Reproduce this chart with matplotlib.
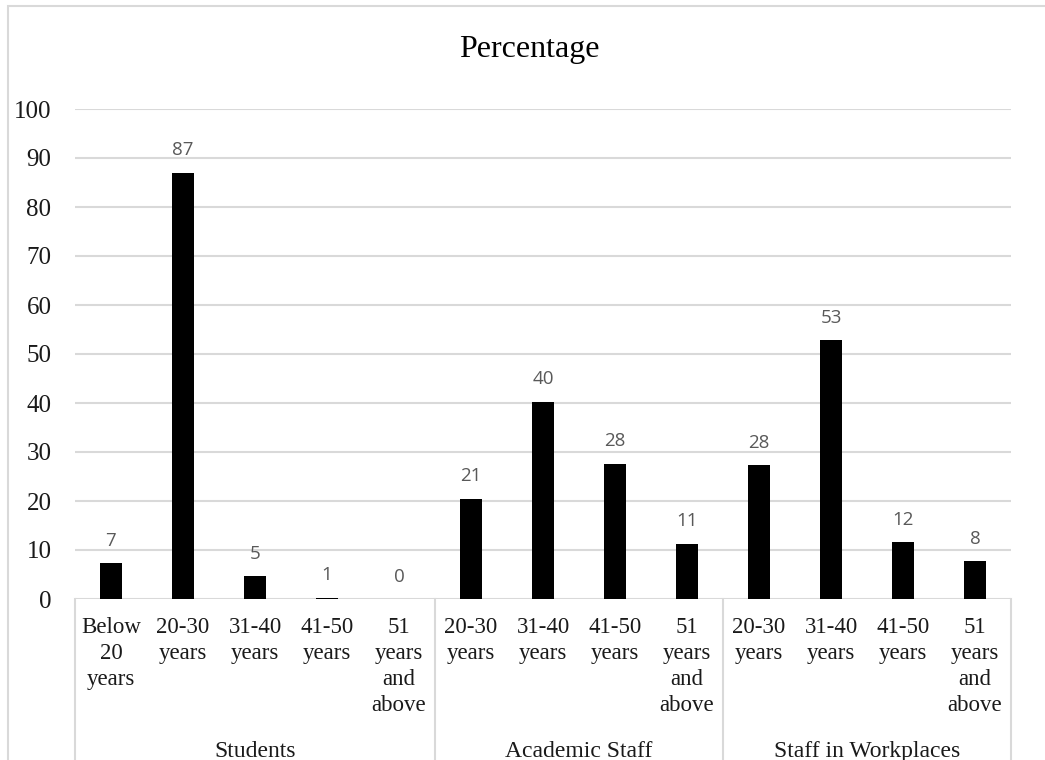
import matplotlib
matplotlib.use("Agg")
import matplotlib.pyplot as plt
from matplotlib.lines import Line2D
from matplotlib.patches import Rectangle
import matplotlib.transforms as mtransforms

# ---- data ----
groups = ["Students", "Academic Staff", "Staff in Workplaces"]
group_sizes = [5, 4, 4]
tick_labels = [
    "Below\n20\nyears", "20-30\nyears", "31-40\nyears", "41-50\nyears", "51\nyears\nand\nabove",
    "20-30\nyears", "31-40\nyears", "41-50\nyears", "51\nyears\nand\nabove",
    "20-30\nyears", "31-40\nyears", "41-50\nyears", "51\nyears\nand\nabove",
]
values = [7.3, 87.0, 4.7, 0.3, 0.0, 20.5, 40.3, 27.6, 11.3, 27.3, 52.8, 11.6, 7.7]
value_labels = ["7", "87", "5", "1", "0", "21", "40", "28", "11", "28", "53", "12", "8"]
yticks = list(range(0, 101, 10))

W, H = 1045, 760
fig = plt.figure(figsize=(W / 100, H / 100), dpi=100)
fig.patch.set_facecolor("white")

SERIF = "Liberation Serif"
TXT = "#1a1a1a"

# outer chart border
fig.add_artist(Rectangle((8 / W, -0.1), 1.2, 1 - 6 / H + 0.1, transform=fig.transFigure,
                         fill=False, edgecolor="#d9d9d9", linewidth=1.5))

x0, x1 = 75, 1011
y_top, y_bot = 109, 599
ax = fig.add_axes([x0 / W, (H - y_bot) / H, (x1 - x0) / W, (y_bot - y_top) / H])
n = len(values)
xs = list(range(n))
ax.bar(xs, values, width=0.3, color="black", zorder=3)
ax.set_xlim(-0.5, n - 0.5)
ax.set_ylim(0, 100)
ax.set_yticks(yticks)
ax.set_yticklabels([str(t) for t in yticks], family=SERIF, fontsize=18, color=TXT)
ax.tick_params(axis="y", length=0, pad=17)
ax.set_xticks([])
for s in ax.spines.values():
    s.set_visible(False)
ax.grid(axis="y", color="#d9d9d9", linewidth=1.5, zorder=0)
ax.set_axisbelow(True)

for x, v, lab in zip(xs, values, value_labels):
    ax.annotate(lab, (x, v), xytext=(0, 12.5), textcoords="offset points", ha="center",
                va="baseline", family="Open Sans", fontsize=13.5, color="#595959")

# category axis labels (one line at a time)
trans = mtransforms.blended_transform_factory(ax.transData, fig.transFigure)
first_base, pitch = 633, 26
for x, lab in zip(xs, tick_labels):
    for i, line in enumerate(lab.split("\n")):
        fig.text(x, 1 - (first_base + i * pitch) / H, line, transform=trans, ha="center",
                 va="baseline", family=SERIF, fontsize=16.5, color=TXT)

# group separators & labels
start = 0
bounds = [-0.5]
for g, size in zip(groups, group_sizes):
    center = start + (size - 1) / 2
    fig.text(center, 1 - 757 / H, g, transform=trans, ha="center", va="baseline",
             family=SERIF, fontsize=17, color=TXT)
    start += size
    bounds.append(start - 0.5)
for b in bounds:
    fig.add_artist(Line2D([b, b], [1 - y_bot / H, -0.1], transform=trans, color="#d9d9d9",
                          linewidth=1.5))

fig.text(529 / W, 1 - 57 / H, "Percentage", ha="center", va="baseline", family=SERIF,
         fontsize=23, color="black")

fig.savefig("out.png", dpi=100)
